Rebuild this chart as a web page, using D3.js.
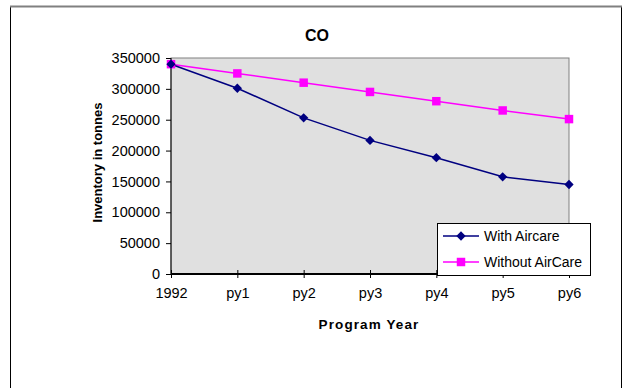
<!DOCTYPE html>
<html>
<head>
<meta charset="utf-8">
<script src="https://cdn.jsdelivr.net/npm/d3@7"></script>
<style>
  body { margin: 0; background: #fff; }
  text { font-family: Arial, "Liberation Sans", sans-serif; fill: #000; }
</style>
</head>
<body>
<div id="chart"></div>
<script>
// data
var years = ["1992", "py1", "py2", "py3", "py4", "py5", "py6"];
var withAircare = [340000, 301000, 253000, 216500, 188500, 157500, 145000];
var withoutAircare = [340000, 325000, 310000, 295000, 280000, 265000, 251000];
var yTicks = [0, 50000, 100000, 150000, 200000, 250000, 300000, 350000];
var seriesNames = ["With Aircare", "Without AirCare"];

var W = 626, H = 388;
var plot = { left: 171, top: 58, right: 569, bottom: 274 };

var svg = d3.select("#chart").append("svg")
  .attr("width", W)
  .attr("height", H);

// outer frame
svg.append("rect")
  .attr("x", 10.5).attr("y", 6.5)
  .attr("width", 611).attr("height", 400)
  .attr("fill", "#fff")
  .attr("stroke", "#000");
svg.append("line")
  .attr("x1", 10).attr("x2", 622)
  .attr("y1", 6.5).attr("y2", 6.5)
  .attr("stroke", "#808080").attr("stroke-width", 2);

var x = d3.scalePoint()
  .domain(years)
  .range([plot.left, plot.right]);

var y = d3.scaleLinear()
  .domain([0, 350000])
  .range([plot.bottom, plot.top]);

// plot area
svg.append("rect")
  .attr("x", plot.left).attr("y", plot.top)
  .attr("width", plot.right - plot.left)
  .attr("height", plot.bottom - plot.top)
  .attr("fill", "#e0e0e0")
  .attr("stroke", "#808080");

// title
svg.append("text")
  .attr("x", 317).attr("y", 41)
  .attr("text-anchor", "middle")
  .style("font-size", "16px")
  .style("font-weight", "bold")
  .text("CO");

// Y axis
var yAxis = svg.append("g")
  .attr("transform", "translate(" + plot.left + ",0)")
  .call(d3.axisLeft(y).tickValues(yTicks).tickFormat(d3.format("d")).tickSize(5).tickPadding(6));
yAxis.select(".domain").attr("stroke", "#000").attr("d", "M0," + plot.top + "V" + plot.bottom);
yAxis.selectAll("text").style("font-size", "14.5px").attr("fill", "#000");

// X axis
var xAxis = svg.append("g")
  .attr("transform", "translate(0," + plot.bottom + ")")
  .call(d3.axisBottom(x).tickSize(4).tickPadding(10));
xAxis.select(".domain").attr("stroke", "#000").attr("stroke-width", 2).attr("d", "M" + plot.left + ",0H" + plot.right);
xAxis.selectAll(".tick line").attr("y1", -4);
xAxis.selectAll("text").style("font-size", "14.5px").attr("fill", "#000");

// axis titles
svg.append("text")
  .attr("x", 369).attr("y", 329)
  .attr("text-anchor", "middle")
  .style("font-size", "13.5px")
  .style("font-weight", "bold")
  .style("letter-spacing", "1.1px")
  .text("Program Year");

svg.append("text")
  .attr("transform", "translate(102,162.5)rotate(-90)")
  .attr("text-anchor", "middle")
  .style("font-size", "13px")
  .style("font-weight", "bold")
  .text("Inventory in tonnes");

// lines
var line = d3.line()
  .x(function (d, i) { return x(years[i]); })
  .y(function (d) { return y(d); });

svg.append("path")
  .datum(withoutAircare)
  .attr("d", line)
  .attr("fill", "none")
  .attr("stroke", "#ff00ff")
  .attr("stroke-width", 1.5);

svg.append("path")
  .datum(withAircare)
  .attr("d", line)
  .attr("fill", "none")
  .attr("stroke", "#000080")
  .attr("stroke-width", 1.5);

var diamond = d3.symbol().type(d3.symbolDiamond2).size(55);
var square = d3.symbol().type(d3.symbolSquare).size(72);

svg.selectAll(".sq")
  .data(withoutAircare)
  .enter().append("path")
  .attr("class", "sq")
  .attr("transform", function (d, i) { return "translate(" + x(years[i]) + "," + y(d) + ")"; })
  .attr("d", square)
  .attr("fill", "#ff00ff");

svg.selectAll(".dm")
  .data(withAircare)
  .enter().append("path")
  .attr("class", "dm")
  .attr("transform", function (d, i) { return "translate(" + x(years[i]) + "," + y(d) + ")"; })
  .attr("d", diamond)
  .attr("fill", "#000080");

// legend
var legend = svg.append("g");
legend.append("rect")
  .attr("x", 437.5).attr("y", 223.5)
  .attr("width", 153).attr("height", 52)
  .attr("fill", "#fff")
  .attr("stroke", "#000");

var colors = ["#000080", "#ff00ff"];
var shapes = [diamond, square];
seriesNames.forEach(function (name, i) {
  var ly = 236 + i * 26;
  legend.append("line")
    .attr("x1", 443).attr("x2", 479)
    .attr("y1", ly).attr("y2", ly)
    .attr("stroke", colors[i]).attr("stroke-width", 1.5);
  legend.append("path")
    .attr("transform", "translate(461," + ly + ")")
    .attr("d", shapes[i])
    .attr("fill", colors[i]);
  legend.append("text")
    .attr("x", 484).attr("y", ly + 5)
    .style("font-size", "14px")
    .text(name);
});
</script>
</body>
</html>
